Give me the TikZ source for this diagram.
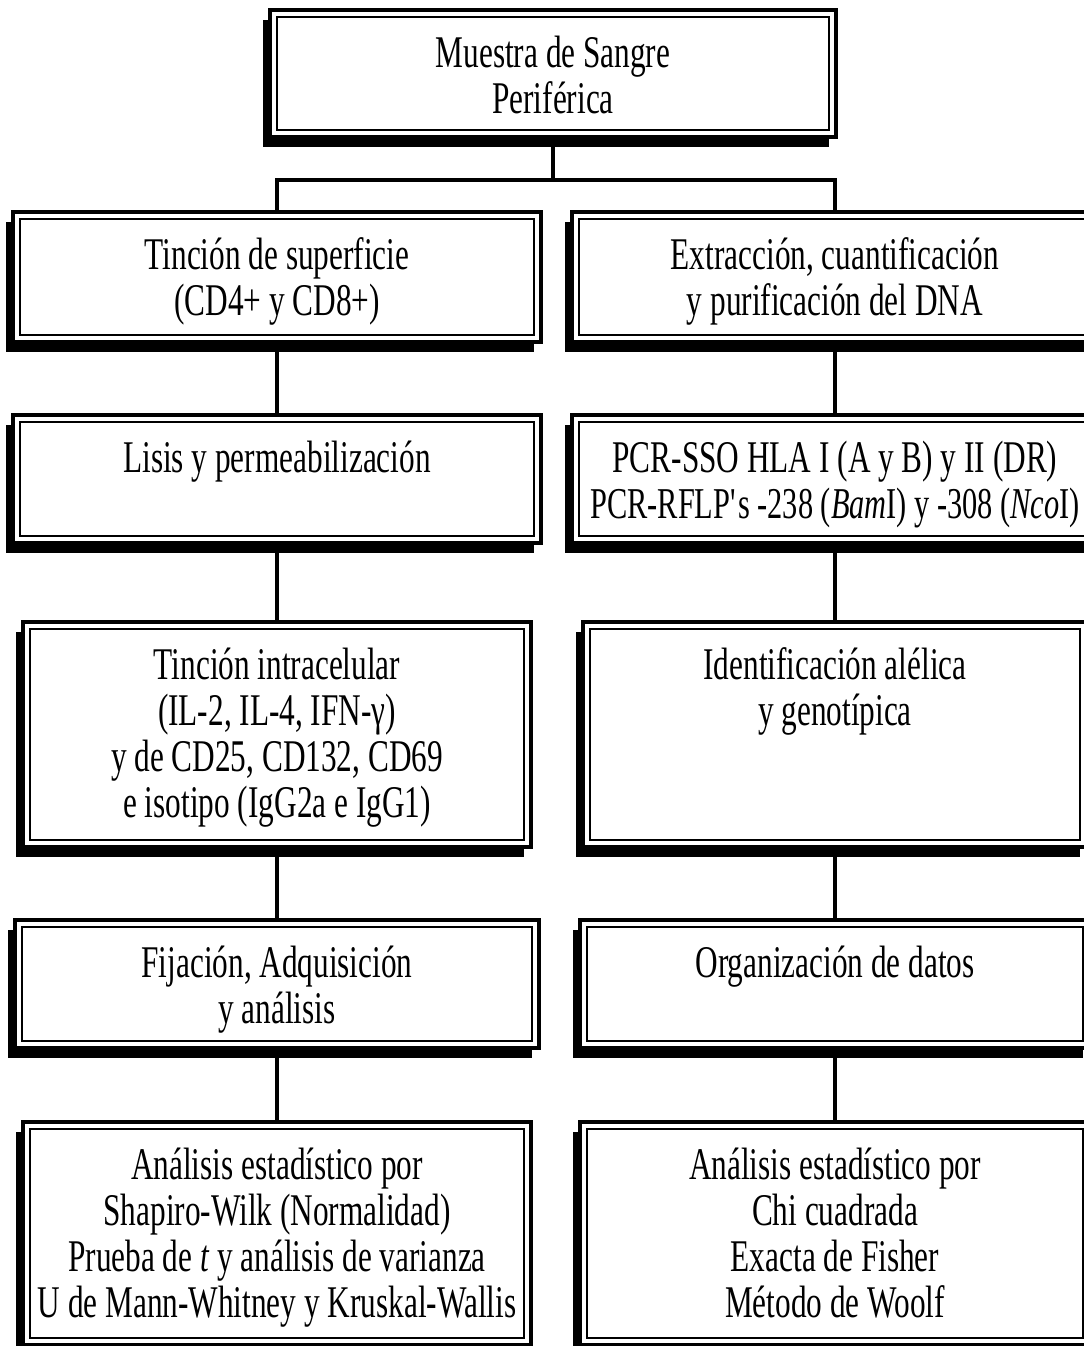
\documentclass[tikz,border=0pt]{standalone}
\usepackage{fontspec}
\setmainfont{Liberation Serif}[FakeStretch=0.69]
\usetikzlibrary{shadows}
\newcommand\mkbox[6]{%
  \node[boxst, minimum width={(#4-#2)*0.75pt}, minimum height={(#5-#3)*0.75pt}] (#1) at ({(#2+#4)/2},{(#3+#5)/2}) {};
  \draw[inframe] ([shift={(7,7)}]#1.north west) rectangle ([shift={(-7,-7)}]#1.south east);
  \node[txt] (#1t) at ([yshift=-10.75pt]#1.north) {\rule{0pt}{32pt}#6};
}
\newcommand\smallerline{\fontsize{33}{34.5}\selectfont}
\begin{document}
\begin{tikzpicture}[x=0.75pt,y=-0.75pt,
  boxst/.style={draw, line width=3pt, fill=white, rectangle, outer sep=0pt, inner sep=0pt,
    general shadow={fill=black, shadow xshift=-5.25pt, shadow yshift=-7.5pt}},
  inframe/.style={line width=1.1pt},
  txt/.style={anchor=north, inner sep=0pt, align=center, font=\fontsize{34}{34.5}\selectfont},
  conn/.style={line width=3pt}]
\useasboundingbox (0,0) rectangle (1083,1346);
\fill[white] (0,0) rectangle (1083,1346);

\mkbox{top}{270}{10}{836}{137}{Muestra de Sangre\\Periférica}
\mkbox{La}{13}{212}{541}{342}{Tinción de superficie\\(CD4+ y CD8+)}
\mkbox{Ra}{572}{212}{1098}{342}{Extracción, cuantificación\\y purificación del DNA}
\mkbox{Lb}{13}{415}{541}{543}{Lisis y permeabilización}
\mkbox{Rb}{572}{415}{1098}{543}{PCR-SSO HLA I (A y B) y II (DR)\\\smallerline PCR-RFLP\textquotesingle s -238 (\textit{Bam}I) y -308 (\textit{Nco}I)}
\mkbox{Lc}{23}{622}{531}{847}{Tinción intracelular\\(IL-2, IL-4, IFN-γ)\\y de CD25, CD132, CD69\\e isotipo (IgG2a e IgG1)}
\mkbox{Rc}{583}{622}{1087}{847}{Identificación alélica\\y genotípica}
\mkbox{Ld}{15}{920}{539}{1048}{Fijación, Adquisición\\y análisis}
\mkbox{Rd}{580}{920}{1090}{1048}{Organización de datos}
\mkbox{Le}{23}{1122}{531}{1345}{Análisis estadístico por\\Shapiro-Wilk (Normalidad)\\Prueba de \textit{t} y análisis de varianza\\U de Mann-Whitney y Kruskal-Wallis}
\mkbox{Re}{580}{1122}{1090}{1345}{Análisis estadístico por\\Chi cuadrada\\Exacta de Fisher\\Método de Woolf}

\coordinate (j) at ([yshift=-32pt]top.south);
\draw[conn] (top.south) -- (j);
\draw[conn, line join=miter] (La.north) -- (La.north |- j) -- (Ra.north |- j) -- (Ra.north);
\draw[conn] (La.south) -- (Lb.north);
\draw[conn] (Lb.south) -- (Lc.north);
\draw[conn] (Lc.south) -- (Ld.north);
\draw[conn] (Ld.south) -- (Le.north);
\draw[conn] (Ra.south) -- (Rb.north);
\draw[conn] (Rb.south) -- (Rc.north);
\draw[conn] (Rc.south) -- (Rd.north);
\draw[conn] (Rd.south) -- (Re.north);
\end{tikzpicture}
\end{document}
